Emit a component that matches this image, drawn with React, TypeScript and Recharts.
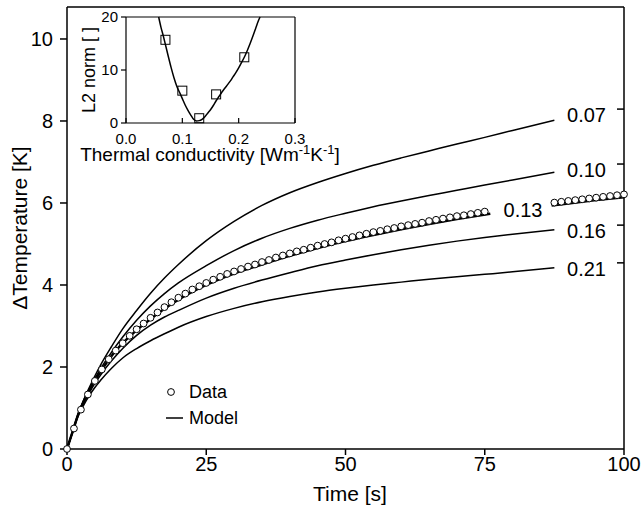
import { ComposedChart, Line, Scatter, XAxis, YAxis, ReferenceLine, ReferenceDot } from "recharts";

const FONT = '"Liberation Sans", Arial, Helvetica, sans-serif';

// main plot: model curves for different conductivities
const modelTime = [0, 1, 2, 3, 4, 5, 6, 8, 10, 12.5, 15, 17.5, 20, 25, 30, 35, 40, 45, 50, 55, 60, 65, 70, 75, 80, 87.5];
const model007 = [0, 0.42, 0.85, 1.2, 1.5, 1.78, 2.04, 2.5, 2.93, 3.38, 3.8, 4.17, 4.5, 5.08, 5.55, 5.94, 6.25, 6.5, 6.72, 6.92, 7.1, 7.27, 7.44, 7.6, 7.77, 8.02];
const model010 = [0, 0.43, 0.86, 1.18, 1.46, 1.72, 1.95, 2.36, 2.73, 3.14, 3.49, 3.79, 4.05, 4.47, 4.84, 5.14, 5.38, 5.58, 5.75, 5.91, 6.05, 6.18, 6.31, 6.44, 6.56, 6.75];
const model016 = [0, 0.42, 0.83, 1.12, 1.37, 1.6, 1.8, 2.15, 2.45, 2.77, 3.02, 3.22, 3.38, 3.68, 3.92, 4.12, 4.3, 4.47, 4.61, 4.74, 4.86, 4.97, 5.07, 5.16, 5.24, 5.35];
const model021 = [0, 0.4, 0.8, 1.07, 1.3, 1.5, 1.67, 1.97, 2.22, 2.45, 2.64, 2.81, 2.97, 3.23, 3.43, 3.59, 3.72, 3.83, 3.92, 4.0, 4.07, 4.14, 4.2, 4.26, 4.32, 4.42];

// best fit (0.13) has a gap where its label sits
const model13Time = [0, 1, 2, 3, 4, 5, 6, 8, 10, 12.5, 15, 17.5, 20, 25, 30, 35, 40, 45, 50, 55, 60, 65, 70, 76, 81, 87, 90, 95, 100];
const model013 = [0, 0.42, 0.84, 1.16, 1.43, 1.66, 1.88, 2.27, 2.58, 2.9, 3.17, 3.42, 3.64, 4.0, 4.28, 4.5, 4.71, 4.9, 5.07, 5.22, 5.36, 5.49, 5.61, 5.74, null, 5.94, 5.99, 6.07, 6.14];

// measured data
const dataTime = [0, 1.25, 2.5, 3.75, 5, 6.25, 7.5, 8.75, 10, 11.25, 12.5, 13.75, 15, 16.25, 17.5, 18.75, 20, 21.25, 22.5, 23.75, 25, 26.25, 27.5, 28.75, 30, 31.25, 32.5, 33.75, 35, 36.25, 37.5, 38.75, 40, 41.25, 42.5, 43.75, 45, 46.25, 47.5, 48.75, 50, 51.25, 52.5, 53.75, 55, 56.25, 57.5, 58.75, 60, 61.25, 62.5, 63.75, 65, 66.25, 67.5, 68.75, 70, 71.25, 72.5, 73.75, 75, 87.5, 88.75, 90, 91.25, 92.5, 93.75, 95, 96.25, 97.5, 98.75, 100];
const dataTemp = [0, 0.5, 0.96, 1.33, 1.66, 1.94, 2.19, 2.4, 2.58, 2.76, 2.92, 3.06, 3.2, 3.33, 3.46, 3.58, 3.69, 3.79, 3.89, 3.97, 4.05, 4.13, 4.2, 4.27, 4.33, 4.39, 4.45, 4.5, 4.56, 4.61, 4.67, 4.72, 4.77, 4.82, 4.86, 4.91, 4.96, 5.0, 5.04, 5.09, 5.13, 5.17, 5.21, 5.25, 5.29, 5.32, 5.36, 5.39, 5.43, 5.46, 5.49, 5.52, 5.56, 5.59, 5.62, 5.65, 5.68, 5.7, 5.73, 5.76, 5.79, 6.01, 6.03, 6.05, 6.07, 6.09, 6.11, 6.13, 6.15, 6.17, 6.19, 6.21];

const xTicks = [0, 25, 50, 75, 100];
const yTicks = [0, 2, 4, 6, 8, 10];
const curveLabels = ["0.21", "0.16", "0.13", "0.10", "0.07"];
const curveLabelY = [4.54, 5.46, 5.84, 6.95, 8.29];

// inset: L2 norm vs conductivity
const fitK = [0.058, 0.062, 0.066, 0.07, 0.075, 0.08, 0.085, 0.09, 0.095, 0.1, 0.105, 0.11, 0.115, 0.12, 0.125, 0.13, 0.135, 0.14, 0.145, 0.15, 0.155, 0.16, 0.165, 0.17, 0.175, 0.18, 0.185, 0.19, 0.195, 0.2, 0.205, 0.21, 0.215, 0.22, 0.225, 0.23, 0.235, 0.238];
const fitL2 = [20, 18.1, 16.5, 14.8, 12.6, 10.5, 8.6, 7.0, 5.8, 4.6, 3.4, 2.4, 1.5, 0.7, 0.4, 0.45, 0.7, 1.2, 1.85, 2.5, 3.3, 4.2, 5.0, 5.8, 6.5, 7.2, 7.9, 8.7, 9.5, 10.4, 11.4, 12.4, 13.6, 14.9, 16.3, 17.8, 19.3, 20];
const sqK = [0.07, 0.1, 0.13, 0.16, 0.21];
const sqL2 = [15.7, 6.1, 0.9, 5.4, 12.4];
const insetXTicks = [0, 0.1, 0.2, 0.3];
const insetYTicks = [0, 10, 20];

const Y_MAX = 10.78;

const pts = (xs: number[], ys: (number | null)[]) => xs.map((t, i) => ({ t, v: ys[i] }));

const axisStroke = { stroke: "#000", strokeWidth: 1.5 };

const curveLabelShape = (text: string) => (p: any) => {
  const { cx, cy } = p;
  if (text === "0.13") {
    return (
      <text x={cx - 101} y={cy + 7} textAnchor="middle" fontFamily={FONT} fontSize={20} fill="#000">
        {text}
      </text>
    );
  }
  return (
    <g>
      <line x1={cx - 7} x2={cx} y1={cy} y2={cy} stroke="#000" strokeWidth={1.5} />
      <text x={cx - 18} y={cy + 13} textAnchor="end" fontFamily={FONT} fontSize={20} fill="#000">
        {text}
      </text>
    </g>
  );
};

const InsetXTick = (props: any) => {
  const { x, y, payload } = props;
  return (
    <g>
      <line x1={x} x2={x} y1={y} y2={y - 5} stroke="#000" strokeWidth={1.2} />
      <text x={x} y={y + 21} textAnchor="middle" fontFamily={FONT} fontSize={15} fill="#000">
        {payload.value.toFixed(1)}
      </text>
    </g>
  );
};

const ChartLegend = () => (
  <div style={{ position: "absolute", left: 160, top: 379, fontFamily: FONT, fontSize: 18, color: "#000", lineHeight: "26px" }}>
    <div style={{ display: "flex", alignItems: "center", height: 26 }}>
      <svg width={29} height={26}>
        <circle cx={11} cy={13} r={3.4} fill="#fff" stroke="#000" strokeWidth={1} />
      </svg>
      <span>Data</span>
    </div>
    <div style={{ display: "flex", alignItems: "center", height: 26 }}>
      <svg width={29} height={26}>
        <line x1={6} x2={23} y1={13} y2={13} stroke="#000" strokeWidth={1.5} />
      </svg>
      <span>Model</span>
    </div>
  </div>
);

export default function App() {
  const lineProps = {
    xAxisId: "x",
    yAxisId: "y",
    dataKey: "v",
    type: "monotone" as const,
    stroke: "#000",
    strokeWidth: 1.5,
    dot: false,
    activeDot: false,
    isAnimationActive: false,
  };

  return (
    <div style={{ position: "absolute", left: 0, top: 0, width: 644, height: 508, background: "#fff" }}>
      <ComposedChart width={644} height={508} margin={{ top: 7, right: 20, bottom: 0, left: 0 }}>
        <XAxis
          xAxisId="x"
          dataKey="t"
          type="number"
          domain={[0, 100]}
          ticks={xTicks}
          interval={0}
          height={59}
          tickSize={6}
          tickMargin={2}
          axisLine={axisStroke}
          tickLine={axisStroke}
          tick={{ fill: "#000", fontSize: 20, fontFamily: FONT }}
          label={{
            content: () => (
              <text x={350} y={501} textAnchor="middle" fontFamily={FONT} fontSize={21} fill="#000">
                Time [s]
              </text>
            ),
          }}
        />
        <YAxis
          yAxisId="y"
          dataKey="v"
          type="number"
          domain={[0, Y_MAX]}
          ticks={yTicks}
          interval={0}
          width={67}
          tickSize={7}
          tickMargin={7}
          axisLine={axisStroke}
          tickLine={axisStroke}
          tick={{ fill: "#000", fontSize: 20, fontFamily: FONT }}
          label={{
            content: () => (
              <text x={20} y={235} transform="rotate(-90 20 228)" textAnchor="middle" fontFamily={FONT} fontSize={21} fill="#000">
                ΔTemperature [K]
              </text>
            ),
          }}
        />
        <ReferenceLine xAxisId="x" yAxisId="y" y={Y_MAX} stroke="#000" strokeWidth={1.5} />
        <ReferenceLine xAxisId="x" yAxisId="y" x={100} stroke="#000" strokeWidth={1.5} />
        <Line {...lineProps} data={pts(modelTime, model007)} />
        <Line {...lineProps} data={pts(modelTime, model010)} />
        <Line {...lineProps} data={pts(modelTime, model016)} />
        <Line {...lineProps} data={pts(modelTime, model021)} />
        <Line {...lineProps} data={pts(model13Time, model013)} strokeWidth={2.5} connectNulls={false} />
        <Scatter
          xAxisId="x"
          yAxisId="y"
          data={pts(dataTime, dataTemp)}
          isAnimationActive={false}
          shape={(p: any) => <circle cx={p.cx} cy={p.cy} r={3.4} fill="#fff" stroke="#000" strokeWidth={1} />}
        />
        {curveLabels.map((text, i) => (
          <ReferenceDot key={text} xAxisId="x" yAxisId="y" x={100} y={curveLabelY[i]} shape={curveLabelShape(text)} />
        ))}
      </ComposedChart>

      <ChartLegend />

      <div style={{ position: "absolute", left: 0, top: 0 }}>
        <ComposedChart width={350} height={175} margin={{ top: 17, right: 55, bottom: 0, left: 0 }}>
          <XAxis
            xAxisId="x"
            dataKey="t"
            type="number"
            domain={[0, 0.3]}
            ticks={insetXTicks}
            interval={0}
            height={52}
            tickSize={0}
            tickMargin={0}
            tickLine={false}
            axisLine={{ stroke: "#000", strokeWidth: 1.2 }}
            tick={<InsetXTick />}
            label={{
              content: () => (
                <text x={210} y={161} textAnchor="middle" fontFamily={FONT} fontSize={19} fill="#000">
                  Thermal conductivity [Wm<tspan dy={-7} fontSize={13}>-1</tspan>
                  <tspan dy={7}>K</tspan>
                  <tspan dy={-7} fontSize={13}>-1</tspan>
                  <tspan dy={7}>]</tspan>
                </text>
              ),
            }}
          />
          <YAxis
            yAxisId="y"
            dataKey="v"
            type="number"
            domain={[0, 20]}
            ticks={insetYTicks}
            interval={0}
            width={126}
            tickSize={5}
            tickMargin={3}
            axisLine={{ stroke: "#000", strokeWidth: 1.2 }}
            tickLine={{ stroke: "#000", strokeWidth: 1.2 }}
            tick={{ fill: "#000", fontSize: 15, fontFamily: FONT }}
            label={{
              content: () => (
                <text x={89} y={76} transform="rotate(-90 89 70)" textAnchor="middle" fontFamily={FONT} fontSize={18} fill="#000">
                  L2 norm [ ]
                </text>
              ),
            }}
          />
          <ReferenceLine xAxisId="x" yAxisId="y" y={20} stroke="#000" strokeWidth={1.2} />
          <ReferenceLine xAxisId="x" yAxisId="y" x={0.3} stroke="#000" strokeWidth={1.2} />
          <Line
            xAxisId="x"
            yAxisId="y"
            data={pts(fitK, fitL2)}
            dataKey="v"
            type="monotone"
            stroke="#000"
            strokeWidth={1.5}
            dot={false}
            activeDot={false}
            isAnimationActive={false}
          />
          <Scatter
            xAxisId="x"
            yAxisId="y"
            data={pts(sqK, sqL2)}
            isAnimationActive={false}
            shape={(p: any) => <rect x={p.cx - 4.5} y={p.cy - 4.5} width={9} height={9} fill="none" stroke="#000" strokeWidth={1} />}
          />
        </ComposedChart>
      </div>
    </div>
  );
}
